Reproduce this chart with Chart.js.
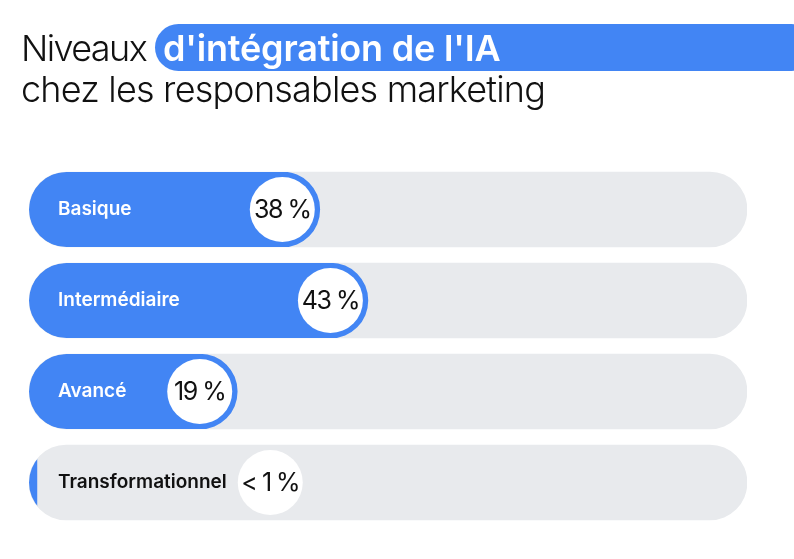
<!DOCTYPE html>
<html lang="fr">
<head>
<meta charset="utf-8">
<script src="https://cdn.jsdelivr.net/npm/chart.js@4"></script>
<style>
  html, body { margin: 0; background: #fff; }
  #wrap { position: relative; width: 794px; height: 559px; overflow: hidden; }
  #main { position: absolute; left: 0; top: 0; }
  .pill { position: absolute; left: 155px; top: 24px; width: 660px; height: 47px; background: #4285F4; border-radius: 23.5px; }
  .line { position: absolute; left: 21px; font: 300 36px Inter, sans-serif; letter-spacing: -1.6px; color: #111; white-space: nowrap; line-height: 44px; }
  .line b { position: absolute; left: 142px; top: 0; font-weight: 600; color: #fff; letter-spacing: -0.2px; }
</style>
</head>
<body>
<div id="wrap">
  <canvas id="main" width="794" height="559"></canvas>
  <div class="pill"></div>
  <div class="line" style="top:26px">Niveaux<b>d'intégration de l'IA</b></div>
  <div class="line" style="top:67px;letter-spacing:-0.8px">chez les responsables marketing</div>
</div>
<script>
const categories = ["Basique", "Intermédiaire", "Avancé", "Transformationnel"];
const valueLabels = ["38 %", "43 %", "19 %", "< 1 %"];
// bar lengths as measured on the picture (share of the grey track), the picture
// does not draw them in proportion to the printed percentages
const barLengths = [40.5, 47.2, 29, 1.1];
const trackLengths = [100, 100, 100, 100];

const BLUE = "#4285F4";
const GREY = "#E8EAED";
const RADIUS = 32.5;
const LABEL_FONT = "600 19px Inter, sans-serif";

// keep the blue fill inside the rounded grey track
const clipFill = {
  id: "clipFill",
  beforeDatasetDraw(chart, args) {
    if (args.index !== 1) return;
    const ctx = chart.ctx;
    ctx.save();
    ctx.beginPath();
    chart.getDatasetMeta(0).data.forEach((bar) => {
      const h = bar.height;
      ctx.roundRect(bar.base, bar.y - h / 2, bar.x - bar.base, h, h / 2);
    });
    ctx.clip();
  },
  afterDatasetDraw(chart, args) {
    if (args.index === 1) chart.ctx.restore();
  },
};

// white circle with the percentage at the end of each bar
const valueBadges = {
  id: "valueBadges",
  afterDatasetsDraw(chart) {
    const ctx = chart.ctx;
    const meta = chart.getDatasetMeta(1);
    ctx.save();
    meta.data.forEach((bar, i) => {
      ctx.font = LABEL_FONT;
      const labelEnd = 58 + ctx.measureText(categories[i]).width;
      const cx = Math.max(bar.x - RADIUS - 5, labelEnd + 11 + RADIUS);
      ctx.fillStyle = "#fff";
      ctx.beginPath();
      ctx.arc(cx, bar.y, RADIUS, 0, Math.PI * 2);
      ctx.fill();
      ctx.fillStyle = "#111";
      ctx.font = "400 25px Inter, sans-serif";
      ctx.letterSpacing = "-1.5px";
      ctx.textAlign = "center";
      ctx.textBaseline = "middle";
      ctx.fillText(valueLabels[i], cx, bar.y + 1);
      ctx.letterSpacing = "0px";
    });
    ctx.restore();
  },
};

new Chart(document.getElementById("main"), {
  type: "bar",
  data: {
    labels: categories,
    datasets: [
      { label: "track", data: trackLengths, backgroundColor: GREY, borderRadius: 37.5, borderSkipped: false, barThickness: 75, grouped: false, order: 2 },
      {
        label: "share",
        data: barLengths,
        backgroundColor: BLUE,
        // the thin sliver keeps a straight right edge
        borderRadius: (c) => (c.raw < 5 ? 0 : 37.5),
        borderSkipped: false,
        barThickness: 75,
        grouped: false,
        order: 1,
      },
    ],
  },
  options: {
    indexAxis: "y",
    responsive: false,
    animation: false,
    layout: { padding: { left: 29, right: 47, top: 164, bottom: 31 } },
    plugins: { legend: { display: false }, tooltip: { enabled: false } },
    scales: {
      x: { display: false, min: 0, max: 100 },
      y: {
        // tick padding would otherwise eat into the plot height
        afterFit: (scale) => { scale.width = 0; scale.paddingTop = 0; scale.paddingBottom = 0; },
        grid: { display: false, drawTicks: false },
        border: { display: false },
        ticks: {
          z: 1,
          mirror: true,
          padding: 29,
          font: { family: "Inter", size: 19, weight: "600" },
          color: (c) => (barLengths[c.index] < 5 ? "#111" : "#fff"),
        },
      },
    },
  },
  plugins: [clipFill, valueBadges],
});
</script>
</body>
</html>
